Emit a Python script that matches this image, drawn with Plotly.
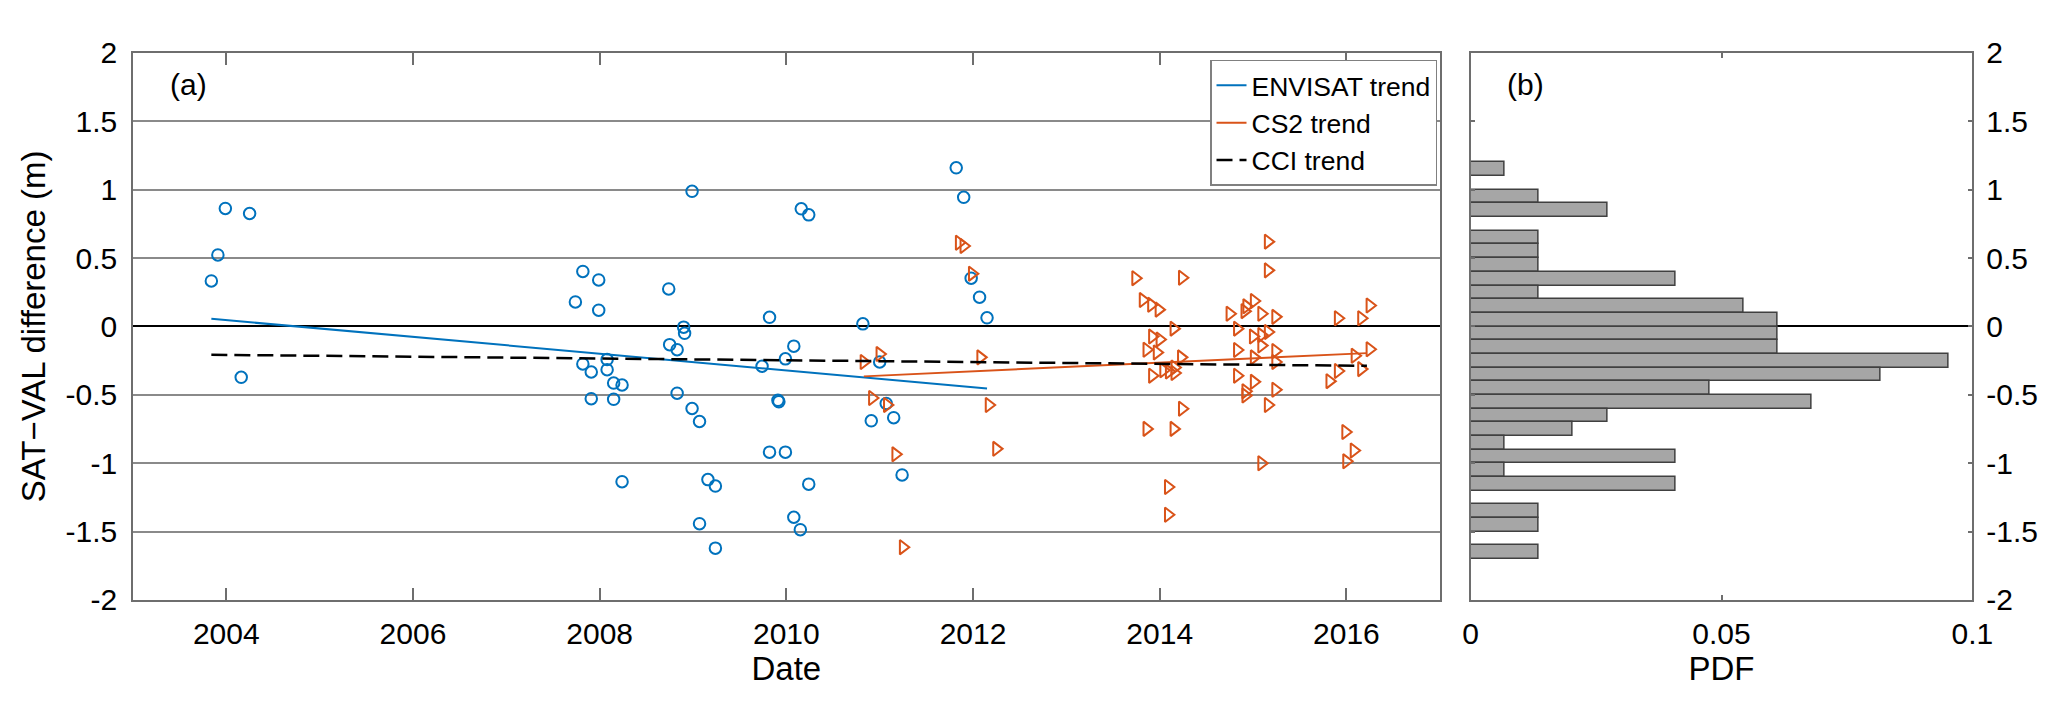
import plotly.graph_objects as go

# ---------------- data ----------------
env_year = [2003.84, 2003.91, 2003.99, 2004.16, 2004.25, 2007.74, 2007.82, 2007.82, 2007.91, 2007.91,
            2007.99, 2007.99, 2008.08, 2008.08, 2008.15, 2008.15, 2008.24, 2008.24, 2008.74, 2008.75,
            2008.83, 2008.83, 2008.90, 2008.91, 2008.99, 2008.99, 2009.07, 2009.07, 2009.16, 2009.24,
            2009.24, 2009.74, 2009.82, 2009.82, 2009.91, 2009.92, 2009.99, 2009.99, 2010.08, 2010.08,
            2010.15, 2010.16, 2010.24, 2010.24, 2010.82, 2010.91, 2011.00, 2011.07, 2011.15, 2011.24,
            2011.82, 2011.90, 2011.98, 2012.07, 2012.15]
env_diff = [0.333, 0.523, 0.863, -0.372, 0.826, 0.179, 0.402, -0.274, -0.333, -0.528,
            0.340, 0.119, -0.242, -0.316, -0.414, -0.533, -0.428, -1.135, 0.274, -0.133,
            -0.170, -0.488, -0.005, -0.050, 0.988, -0.600, -0.695, -1.442, -1.120, -1.167,
            -1.621, -0.291, 0.067, -0.919, -0.540, -0.550, -0.237, -0.919, -0.144, -1.395,
            -1.486, 0.860, 0.816, -1.153, 0.019, -0.690, -0.260, -0.563, -0.667, -1.086,
            1.160, 0.944, 0.353, 0.214, 0.063]

cs2_year = [2010.83, 2011.00, 2010.92, 2011.08, 2011.17, 2011.25, 2011.85, 2011.90, 2011.99, 2012.08,
            2012.17, 2012.25, 2013.74, 2013.82, 2013.91, 2013.99, 2013.92, 2014.00, 2013.86, 2013.97,
            2013.92, 2013.86, 2014.04, 2014.10, 2014.16, 2014.16, 2014.09, 2014.09, 2014.15, 2014.15,
            2014.23, 2014.24, 2014.24, 2014.75, 2014.83, 2014.83, 2014.83, 2014.91, 2014.93, 2014.92,
            2014.92, 2015.01, 2015.00, 2015.01, 2015.01, 2015.09, 2015.09, 2015.09, 2015.09, 2015.16,
            2015.16, 2015.16, 2015.16, 2015.24, 2015.24, 2015.24, 2015.24, 2015.82, 2015.91, 2015.91,
            2015.99, 2016.00, 2016.08, 2016.09, 2016.16, 2016.16, 2016.25, 2016.25]
cs2_diff = [-0.260, -0.202, -0.523, -0.574, -0.935, -1.614, 0.612, 0.588, 0.386, -0.226,
            -0.574, -0.895, 0.353, 0.193, 0.158, 0.123, -0.074, -0.095, -0.170, -0.190,
            -0.360, -0.749, -0.320, -0.330, -0.340, -0.300, -1.174, -1.377, -0.016, -0.749,
            -0.226, 0.356, -0.602, 0.093, -0.016, -0.172, -0.360, 0.112, 0.147, -0.474,
            -0.505, 0.186, -0.074, -0.226, -0.405, 0.093, -0.063, -0.140, -1.000, 0.620,
            0.410, -0.040, -0.574, 0.070, -0.179, -0.260, -0.463, -0.400, 0.060, -0.326,
            -0.772, -0.986, -0.907, -0.214, 0.060, -0.312, 0.153, -0.167]

env_trend_year = [2003.84, 2012.15]
env_trend_diff = [0.056, -0.453]
cs2_trend_year = [2010.83, 2016.22]
cs2_trend_diff = [-0.365, -0.195]
cci_trend_year = [2003.84, 2016.22]
cci_trend_diff = [-0.207, -0.288]

bin_centers = [1.15, 0.95, 0.85, 0.65, 0.55, 0.45, 0.35, 0.25, 0.15, 0.05, -0.05, -0.15, -0.25,
               -0.35, -0.45, -0.55, -0.65, -0.75, -0.85, -0.95, -1.05, -1.15, -1.35, -1.45, -1.65]
pdf_values = [0.0068, 0.0136, 0.0272, 0.0136, 0.0136, 0.0136, 0.0408, 0.0136, 0.0544, 0.0612,
              0.0612, 0.0612, 0.0952, 0.0816, 0.0476, 0.0680, 0.0272, 0.0204, 0.0068, 0.0408,
              0.0068, 0.0408, 0.0136, 0.0136, 0.0136]

year_ticks = [2004, 2006, 2008, 2010, 2012, 2014, 2016]
diff_ticks = [2, 1.5, 1, 0.5, 0, -0.5, -1, -1.5, -2]
diff_tick_text = ["2", "1.5", "1", "0.5", "0", "-0.5", "-1", "-1.5", "-2"]
pdf_ticks = [0, 0.05, 0.1]
pdf_tick_text = ["0", "0.05", "0.1"]

# ---------------- styling ----------------
W, H = 2067, 703
BLUE = "#0072BD"
ORANGE = "#D95319"
AXC = "#6e6e6e"
GRIDC = "#8a8a8a"
FONT = "Liberation Sans"

fig = go.Figure()

fig.add_trace(go.Scatter(x=env_year, y=env_diff, mode="markers", showlegend=False,
                         marker=dict(symbol="circle-open", size=11.5, color=BLUE, line=dict(width=2, color=BLUE)),
                         xaxis="x", yaxis="y"))
fig.add_trace(go.Scatter(x=cs2_year, y=cs2_diff, mode="markers", showlegend=False,
                         marker=dict(symbol="triangle-right-open", size=12.5, color=ORANGE, line=dict(width=2, color=ORANGE)),
                         xaxis="x", yaxis="y"))
fig.add_trace(go.Scatter(x=env_trend_year, y=env_trend_diff, mode="lines", name="ENVISAT trend",
                         line=dict(color=BLUE, width=2), xaxis="x", yaxis="y"))
fig.add_trace(go.Scatter(x=cs2_trend_year, y=cs2_trend_diff, mode="lines", name="CS2 trend",
                         line=dict(color=ORANGE, width=2), xaxis="x", yaxis="y"))
fig.add_trace(go.Scatter(x=cci_trend_year, y=cci_trend_diff, mode="lines", name="CCI trend",
                         line=dict(color="black", width=2.5, dash="16px,7px"), xaxis="x", yaxis="y"))

fig.add_trace(go.Bar(x=pdf_values, y=bin_centers, orientation="h", width=0.1, showlegend=False,
                     marker=dict(color="#a6a6a6", line=dict(color="#404040", width=1.5)),
                     xaxis="x2", yaxis="y2"))

ydom = [1 - 603.3 / H, 1 - 29.3 / H]

fig.update_layout(
    width=W, height=H,
    margin=dict(l=0, r=0, t=0, b=0),
    paper_bgcolor="white", plot_bgcolor="white",
    font=dict(family=FONT, size=30, color="black"),
    bargap=0,
    xaxis=dict(domain=[118.6 / W, 1444 / W], range=[2003, 2017], tickvals=year_ticks,
               ticktext=[str(v) for v in year_ticks],
               showline=True, linecolor=AXC, linewidth=1.5, mirror="ticks",
               ticks="inside", ticklen=12, tickwidth=1.5, tickcolor=AXC,
               showgrid=False, zeroline=False, ticklabelstandoff=6,
               title=dict(text="Date", font=dict(size=33), standoff=3)),
    yaxis=dict(domain=ydom, range=[-2, 2], tickvals=diff_ticks, ticktext=diff_tick_text,
               showline=True, linecolor=AXC, linewidth=1.5, mirror=True,
               ticks="", showgrid=True, gridcolor=GRIDC, gridwidth=1.5,
               zeroline=True, zerolinecolor="black", zerolinewidth=2,
               ticklabelstandoff=8,
               title=dict(text="SAT−VAL difference (m)", font=dict(size=33), standoff=10)),
    xaxis2=dict(domain=[1475.3 / W, 1984.3 / W], anchor="y2", range=[0, 0.1], tickvals=pdf_ticks,
                ticktext=pdf_tick_text,
                showline=True, linecolor=AXC, linewidth=1.5, mirror="ticks",
                ticks="inside", ticklen=5, tickwidth=1.5, tickcolor=AXC,
                showgrid=False, zeroline=False, ticklabelstandoff=6,
                title=dict(text="PDF", font=dict(size=33), standoff=3)),
    yaxis2=dict(domain=ydom, anchor="x2", side="right", range=[-2, 2], tickvals=diff_ticks,
                ticktext=diff_tick_text,
                showline=True, linecolor=AXC, linewidth=1.5, mirror="ticks",
                ticks="inside", ticklen=5, tickwidth=1.5, tickcolor=AXC,
                showgrid=False, zeroline=True, zerolinecolor="black", zerolinewidth=1.5,
                ticklabelstandoff=6),
    legend=dict(x=1211 / W, y=1 - 36.7 / H, xanchor="left", yanchor="top",
                bgcolor="white", bordercolor="#808080", borderwidth=1.5,
                font=dict(size=26.5), itemwidth=30, tracegroupgap=0),
    annotations=[
        dict(text="(a)", x=154 / W, y=1 - 62 / H, xref="paper", yref="paper",
             xanchor="left", yanchor="middle", showarrow=False, font=dict(size=30)),
        dict(text="(b)", x=1510 / W, y=1 - 62 / H, xref="paper", yref="paper",
             xanchor="left", yanchor="middle", showarrow=False, font=dict(size=30)),
    ],
)

fig.write_html("out.html")
